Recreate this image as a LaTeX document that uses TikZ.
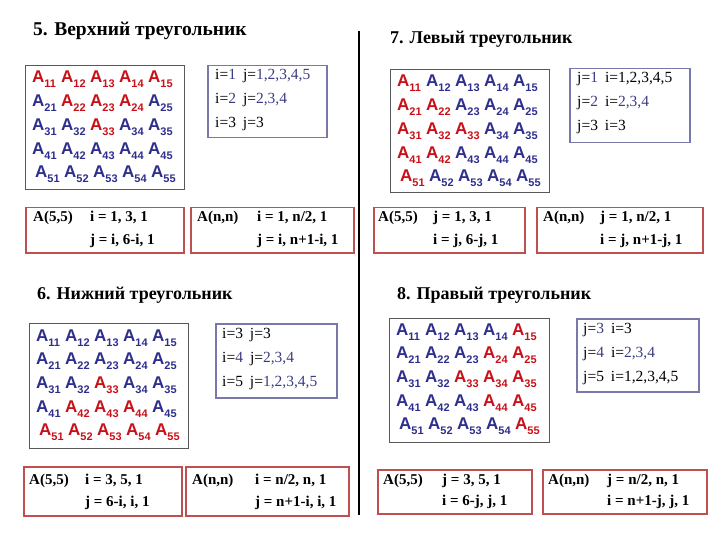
\documentclass[tikz,border=0pt]{standalone}
\usepackage{fontspec}
\setmainfont{Liberation Serif}
\newfontfamily\arialf{Liberation Sans}
\definecolor{matred}{RGB}{200,16,24}
\definecolor{matblue}{RGB}{46,46,140}
\definecolor{numblue}{RGB}{60,60,130}
\definecolor{ijc}{RGB}{120,120,170}
\definecolor{fc}{RGB}{190,80,80}
\newcommand\nb[1]{\textcolor{numblue}{#1}}
\newcommand\gp{\hspace{7pt}}
\tikzset{
 matbox/.style={draw=black!65, line width=1.3pt, anchor=north west, inner sep=0pt},
 ijbox/.style={draw=ijc, line width=1.5pt, anchor=north west, inner sep=0pt},
 formbox/.style={draw=fc, line width=1.5pt, anchor=north west, inner sep=0pt},
 ttl/.style={anchor=base west, inner sep=0pt, font=\fontsize{18}{18}\selectfont\bfseries},
 ent/.style={anchor=base west, inner sep=0pt, font=\arialf\bfseries\fontsize{17}{17}\selectfont},
 ijtxt/.style={anchor=base west, inner sep=0pt, font=\fontsize{15.5}{15.5}\selectfont},
 ftxt/.style={anchor=base west, inner sep=0pt, font=\fontsize{15}{15}\selectfont\bfseries},
}
\newcommand\drawmat[4]{%
 \foreach \r in {1,...,5}{\foreach \c in {1,...,5}{%
   \pgfmathtruncatemacro\isred{#4}%
   \ifnum\isred=1 \def\mcol{matred}\else\def\mcol{matblue}\fi
   \pgfmathtruncatemacro\rsh{\r==5 ? 3 : 0}%
   \pgfmathsetmacro\xx{#2+7+29*(\c-1)+\rsh}%
   \pgfmathsetmacro\yy{#3+18+23.7*(\r-1)}%
   \node[ent,text=\mcol] (#1-\r\c) at (\xx,\yy) {A\raisebox{-5pt}{\fontsize{11}{11}\selectfont\r\c}};
 }}}
\begin{document}
\begin{tikzpicture}[x=1pt,y=-1pt]
\useasboundingbox (0,0) rectangle (720,540);
% separator
\coordinate (vt) at (359,31);
\coordinate (vb) at (359,515);
\draw[line width=2.5pt] (vt) -- (vb);
% titles
\node[ttl, font=\fontsize{19.5}{19.5}\selectfont\bfseries] (t1) at (33,36) {5. Верхний треугольник};
\node[ttl] (t2) at (390,44) {7. Левый треугольник};
\node[ttl] (t3) at (37,299) {6. Нижний треугольник};
\node[ttl] (t4) at (397,299) {8. Правый треугольник};
% matrix boxes
\node[matbox, minimum width=159pt, minimum height=124pt] (mb1) at (25,65) {};
\node[matbox, minimum width=159pt, minimum height=123pt] (mb2) at (390,69) {};
\node[matbox, minimum width=159pt, minimum height=125pt] (mb3) at (29,323) {};
\node[matbox, minimum width=160pt, minimum height=124pt] (mb4) at (389,318) {};
\drawmat{m1}{25}{65}{and(\r<=\c,\r+\c<=6)}
\drawmat{m2}{390}{69}{and(\c<=\r,\r+\c<=6)}
\drawmat{m3}{29}{323}{and(\c<=\r,\r+\c>=6)}
\drawmat{m4}{389}{317}{and(\c>=\r,\r+\c>=6)}
% i/j boxes
\node[ijbox, minimum width=119pt, minimum height=72pt] (ij1) at (207,65) {};
\node[ijtxt] (ij1a) at (215,80) {i=\nb{1}\gp j=\nb{1,2,3,4,5}};
\node[ijtxt] (ij1b) at (215,104) {i=\nb{2}\gp j=\nb{2,3,4}};
\node[ijtxt] (ij1c) at (215,128) {i=3\gp j=3};
\node[ijbox, minimum width=120pt, minimum height=74pt] (ij2) at (569,68) {};
\node[ijtxt] (ij2a) at (577,83) {j=\nb{1}\gp i=1,2,3,4,5};
\node[ijtxt] (ij2b) at (577,107) {j=\nb{2}\gp i=\nb{2,3,4}};
\node[ijtxt] (ij2c) at (577,131) {j=3\gp i=3};
\node[ijbox, minimum width=121pt, minimum height=74pt] (ij3) at (215,323) {};
\node[ijtxt] (ij3a) at (222,338) {i=3\gp j=3};
\node[ijtxt] (ij3b) at (222,362) {i=\nb{4}\gp j=\nb{2,3,4}};
\node[ijtxt] (ij3c) at (222,386) {i=5\gp j=\nb{1,2,3,4,5}};
\node[ijbox, minimum width=122pt, minimum height=73pt] (ij4) at (576,318) {};
\node[ijtxt] (ij4a) at (583,333) {j=\nb{3}\gp i=3};
\node[ijtxt] (ij4b) at (583,357) {j=\nb{4}\gp i=\nb{2,3,4}};
\node[ijtxt] (ij4c) at (583,381) {j=5\gp i=1,2,3,4,5};
% formula boxes top-left
\node[formbox, minimum width=158pt, minimum height=45pt] (f1) at (25,207) {};
\node[ftxt] (f1a) at (33,222) {A(5,5)};
\node[ftxt] (f1b) at (90,222) {i = 1, 3, 1};
\node[ftxt] (f1c) at (90,244) {j = i, 6-i, 1};
\node[formbox, minimum width=163pt, minimum height=45pt] (f2) at (190,207) {};
\node[ftxt] (f2a) at (197,222) {A(n,n)};
\node[ftxt] (f2b) at (257,222) {i = 1, n/2, 1};
\node[ftxt] (f2c) at (257,244) {j = i, n+1-i, 1};
% formula boxes top-right
\node[formbox, minimum width=151pt, minimum height=45pt] (f3) at (373,207) {};
\node[ftxt] (f3a) at (378,222) {A(5,5)};
\node[ftxt] (f3b) at (433,222) {j = 1, 3, 1};
\node[ftxt] (f3c) at (433,244) {i = j, 6-j, 1};
\node[formbox, minimum width=166pt, minimum height=45pt] (f4) at (536,207) {};
\node[ftxt] (f4a) at (543,222) {A(n,n)};
\node[ftxt] (f4b) at (600,222) {j = 1, n/2, 1};
\node[ftxt] (f4c) at (600,244) {i = j, n+1-j, 1};
% formula boxes bottom-left
\node[formbox, minimum width=158pt, minimum height=49pt] (f5) at (23,466) {};
\node[ftxt] (f5a) at (29,484) {A(5,5)};
\node[ftxt] (f5b) at (85,484) {i = 3, 5, 1};
\node[ftxt] (f5c) at (85,506) {j = 6-i, i, 1};
\node[formbox, minimum width=163pt, minimum height=49pt] (f6) at (185,466) {};
\node[ftxt] (f6a) at (192,484) {A(n,n)};
\node[ftxt] (f6b) at (255,484) {i = n/2, n, 1};
\node[ftxt] (f6c) at (255,506) {j = n+1-i, i, 1};
% formula boxes bottom-right
\node[formbox, minimum width=154pt, minimum height=44pt] (f7) at (377,469) {};
\node[ftxt] (f7a) at (383,484) {A(5,5)};
\node[ftxt] (f7b) at (442,484) {j = 3, 5, 1};
\node[ftxt] (f7c) at (442,505) {i = 6-j, j, 1};
\node[formbox, minimum width=164pt, minimum height=44pt] (f8) at (542,469) {};
\node[ftxt] (f8a) at (548,484) {A(n,n)};
\node[ftxt] (f8b) at (607,484) {j = n/2, n, 1};
\node[ftxt] (f8c) at (607,505) {i = n+1-j, j, 1};
\end{tikzpicture}
\end{document}
